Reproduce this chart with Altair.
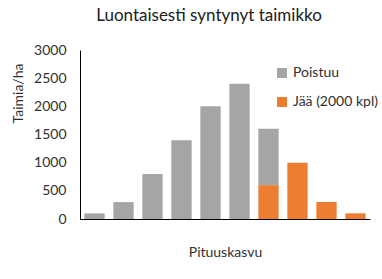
import altair as alt
import pandas as pd

categories = list(range(1, 11))
poistuu = [100, 300, 800, 1400, 2000, 2400, 1000, 0, 0, 0]
jaa = [0, 0, 0, 0, 0, 0, 600, 1000, 300, 100]
series = ["Poistuu", "Jää (2000 kpl)"]
colors = ["#A5A5A5", "#ED7D31"]

rows = []
for c, p, j in zip(categories, poistuu, jaa):
    rows.append({"cat": c, "series": series[0], "value": p, "ord": 2})
    rows.append({"cat": c, "series": series[1], "value": j, "ord": 1})
df = pd.DataFrame(rows)

FONT = "Lato"
TXT = "#303030"

chart = alt.Chart(df).mark_bar().encode(
    x=alt.X("cat:O", title="Pituuskasvu",
            scale=alt.Scale(paddingInner=0.3, paddingOuter=0.15),
            axis=alt.Axis(labels=False, ticks=False, domainColor="#000000",
                          titleFont=FONT, titleFontSize=14, titleFontWeight="normal",
                          titleColor=TXT, titlePadding=26)),
    y=alt.Y("value:Q", title="Taimia/ha", stack="zero",
            scale=alt.Scale(domain=[0, 3000]),
            axis=alt.Axis(values=[0, 500, 1000, 1500, 2000, 2500, 3000], format="d",
                          grid=False, ticks=False, domainColor="#000000", labelPadding=14,
                          labelFont=FONT, labelFontSize=14, labelColor=TXT,
                          titleFont=FONT, titleFontSize=14, titleFontWeight="normal",
                          titleColor=TXT, titleX=-62, titleY=43,
                          titleAlign="center", titleBaseline="middle")),
    color=alt.Color("series:N", sort=series,
                    scale=alt.Scale(domain=series, range=colors),
                    legend=alt.Legend(title=None, orient="none", legendX=195, legendY=16,
                                      symbolType="square", symbolSize=100,
                                      symbolStrokeWidth=0, rowPadding=15,
                                      labelFont=FONT, labelFontSize=14, labelColor=TXT,
                                      labelOffset=4)),
    order=alt.Order("ord:Q", sort="ascending"),
).properties(
    width=290, height=169,
    title=alt.TitleParams("Luontaisesti syntynyt taimikko", font=FONT, fontSize=17,
                          fontWeight="normal", color="#202020", anchor="middle",
                          dx=-16, offset=18),
    autosize=alt.AutoSizeParams(type="none"),
    padding={"left": 80, "top": 50, "right": 12, "bottom": 60},
).configure_view(stroke=None)

chart.save("out.html", embed_options={"renderer": "svg", "actions": False})
